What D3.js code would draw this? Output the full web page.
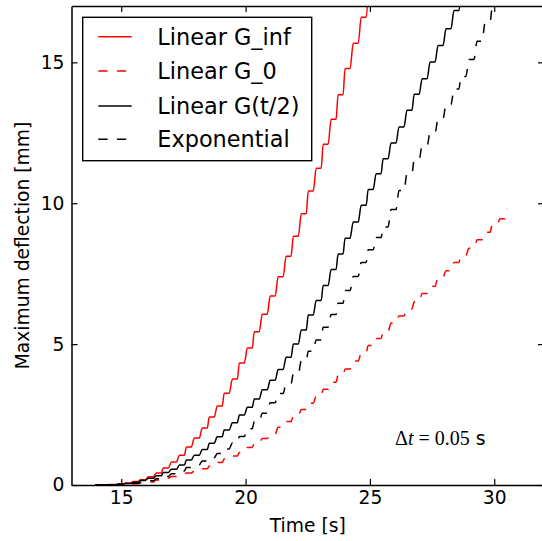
<!DOCTYPE html>
<html>
<head>
<meta charset="utf-8">
<script src="https://cdn.jsdelivr.net/npm/d3@7"></script>
<style>
body{margin:0;background:#fff;}
text{font-family:"DejaVu Sans",sans-serif;}
</style>
</head>
<body>
<svg id="chart-area" width="542" height="541"></svg>
<script>
// start / end of each flat part of the load cycle [s]
var stepT = [13.95, 14.26, 14.57, 14.89, 15.17, 15.49, 15.77, 16.09, 16.41, 16.69,
             17.02, 17.34, 17.62, 17.94, 18.26, 18.54, 18.86, 19.14, 19.47, 19.75,
             20.07, 20.35, 20.67, 20.99, 21.31, 21.63, 21.92, 22.24, 22.52, 22.84,
             23.12, 23.44, 23.72, 24.00, 24.33, 24.65, 24.93, 25.25, 25.53, 25.85,
             26.17, 26.49, 26.78, 27.10, 27.42, 27.74, 28.06, 28.38, 28.66, 28.98,
             29.31, 29.63, 29.91, 30.23, 30.51];
var stepEndT = [14.15, 14.46, 14.77, 15.09, 15.37, 15.69, 15.97, 16.29, 16.61, 16.89,
                17.22, 17.54, 17.82, 18.14, 18.46, 18.74, 19.06, 19.34, 19.67, 19.95,
                20.27, 20.55, 20.87, 21.19, 21.51, 21.83, 22.12, 22.44, 22.72, 23.04,
                23.32, 23.64, 23.92, 24.20, 24.53, 24.85, 25.13, 25.45, 25.73, 26.05,
                26.37, 26.69, 26.98, 27.30, 27.62, 27.94, 28.26, 28.58, 28.86, 29.18,
                29.51, 29.83, 30.11, 30.43, 30.71];

// deflection [mm] on each flat
var linearGinf = [0, 0.01, 0.02, 0.04, 0.07, 0.12, 0.19, 0.29, 0.43, 0.60,
                  0.82, 1.06, 1.35, 1.67, 2.02, 2.41, 2.80, 3.26, 3.76, 4.33,
                  4.86, 5.44, 6.06, 6.71, 7.39, 8.12, 8.83, 9.63, 10.43, 11.24,
                  12.09, 12.98, 13.85, 14.78, 15.68, 16.6, 17.5];
var linearG0 = [0, 0.002, 0.005, 0.012, 0.025, 0.045, 0.075, 0.11, 0.18, 0.24,
                0.3, 0.37, 0.43, 0.5, 0.58, 0.67, 0.8, 0.92, 1.03, 1.15,
                1.33, 1.5, 1.65, 1.8, 2.05, 2.25, 2.45, 2.68, 2.9, 3.15,
                3.4, 3.65, 3.9, 4.12, 4.4, 4.7, 4.95, 5.2, 5.45, 5.75,
                6.0, 6.25, 6.5, 6.8, 7.05, 7.38, 7.6, 7.9, 8.15, 8.4,
                8.7, 8.97, 9.2, 9.45, 9.8];
var linearGhalf = [0, 0.005, 0.012, 0.025, 0.05, 0.10, 0.16, 0.24, 0.33, 0.44,
                   0.56, 0.71, 0.89, 1.06, 1.26, 1.48, 1.71, 1.95, 2.21, 2.48,
                   2.76, 3.05, 3.38, 3.72, 4.1, 4.53, 5.0, 5.5, 6.03, 6.55,
                   7.08, 7.65, 8.2, 8.76, 9.33, 9.93, 10.49, 11.05, 11.58, 12.14,
                   12.71, 13.30, 13.87, 14.42, 15.01, 15.6, 16.19, 16.84, 17.45];
var exponential = [0, 0.003, 0.007, 0.015, 0.03, 0.06, 0.1, 0.15, 0.22, 0.3,
                   0.4, 0.5, 0.62, 0.72, 0.85, 0.97, 1.12, 1.28, 1.5, 1.72,
                   2.0, 2.25, 2.55, 2.92, 3.25, 3.6, 3.95, 4.4, 4.75, 5.15,
                   5.6, 6.05, 6.45, 6.9, 7.4, 7.9, 8.35, 8.78, 9.16, 9.78,
                   10.45, 11.05, 11.55, 12.05, 12.5, 13.0, 13.5, 14.05, 14.5, 15.1,
                   15.75, 16.4, 16.9, 17.5];

var seriesNames = ['Linear G_inf', 'Linear G_0', 'Linear G(t/2)', 'Exponential'];
var xTicks = [15, 20, 25, 30];
var yTicks = [0, 5, 10, 15];

var margin = {left:71.5, top:6};
var width = 544 - margin.left;
var height = 485 - margin.top;

var svg = d3.select('#chart-area');
var g = svg.append('g')
           .attr('transform','translate(' + margin.left + ',' + margin.top + ')');

var x = d3.scaleLinear().domain([13,32]).range([0,width]);
var y = d3.scaleLinear().domain([0,17]).range([height,0]);

g.append('clipPath').attr('id','clip')
 .append('rect').attr('width',width).attr('height',height);

function stepPoints(vals){
    var pts = [];
    vals.forEach(function(v,i){
        pts.push([stepT[i], v]);
        if(i < vals.length-1) pts.push([stepEndT[i], v]);
    });
    return pts;
}

var line = d3.line()
             .x(function(d){ return x(d[0]); })
             .y(function(d){ return y(d[1]); })
             .curve(d3.curveMonotoneX);

var series = [
    {name:seriesNames[0], vals:linearGinf, color:'#ff0000', dash:null},
    {name:seriesNames[1], vals:linearG0, color:'#ff0000', dash:'9.3,9.3'},
    {name:seriesNames[2], vals:linearGhalf, color:'#000000', dash:null},
    {name:seriesNames[3], vals:exponential, color:'#000000', dash:'9.3,9.3'}
];

g.append('g').attr('clip-path','url(#clip)')
 .selectAll('path').data(series).enter()
 .append('path')
 .attr('d',function(d){ return line(stepPoints(d.vals)); })
 .attr('fill','none')
 .attr('stroke',function(d){ return d.color; })
 .attr('stroke-width',1.5)
 .attr('stroke-dasharray',function(d){ return d.dash; });

// axes, ticks pointing inwards on all four sides
var xAxis = d3.axisBottom(x).tickValues(xTicks).tickSizeInner(-6).tickSizeOuter(0).tickPadding(6);
var xTop = d3.axisTop(x).tickValues(xTicks).tickSizeInner(-6).tickSizeOuter(0).tickFormat('');
var yAxis = d3.axisLeft(y).tickValues(yTicks).tickSizeInner(-6).tickSizeOuter(0).tickPadding(7);
var yRight = d3.axisRight(y).tickValues(yTicks).tickSizeInner(-6).tickSizeOuter(0).tickFormat('');

g.append('g').attr('class','axis').attr('transform','translate(0,' + height + ')').call(xAxis);
g.append('g').attr('class','axis').call(xTop);
g.append('g').attr('class','axis').call(yAxis);
g.append('g').attr('class','axis').attr('transform','translate(' + width + ',0)').call(yRight);

g.selectAll('.axis path').attr('stroke','#000').attr('stroke-width',1.5);
g.selectAll('.axis line').attr('stroke','#000').attr('stroke-width',1.2);
g.selectAll('.axis text')
 .attr('fill','#000')
 .style('font-family','"DejaVu Sans",sans-serif')
 .style('font-size','18.7px');

svg.append('text')
   .attr('x', margin.left + width/2)
   .attr('y', 532)
   .attr('text-anchor','middle')
   .style('font-size','18.7px')
   .text('Time [s]');

svg.append('text')
   .attr('transform','translate(29,' + (margin.top + height/2) + ') rotate(-90)')
   .attr('text-anchor','middle')
   .style('font-size','18.7px')
   .text('Maximum deflection [mm]');

// annotation
var ann = svg.append('text').attr('x',395).attr('y',445).style('font-size','20px');
ann.append('tspan').style('font-family','"Liberation Serif",serif').text('\u0394');
ann.append('tspan').style('font-family','"Liberation Serif",serif').style('font-style','italic').text('t');
ann.append('tspan').style('font-family','"Liberation Serif",serif').text(' = 0.05');
ann.append('tspan').style('font-size','18.7px').text(' s');

// legend
var legend = svg.append('g');
legend.append('rect')
      .attr('x',82.7).attr('y',17.3)
      .attr('width',229).attr('height',143.4)
      .attr('fill','#fff').attr('stroke','#000').attr('stroke-width',1.4);

var rowY = [36.7, 71, 106, 139.3];
var rows = legend.selectAll('.row').data(series).enter()
                 .append('g').attr('class','row')
                 .attr('transform',function(d,i){ return 'translate(0,' + rowY[i] + ')'; });
rows.append('line')
    .attr('x1',98.3).attr('x2',131.7)
    .attr('stroke',function(d){ return d.color; })
    .attr('stroke-width',1.5)
    .attr('stroke-dasharray',function(d){ return d.dash; });
rows.append('text')
    .attr('x',157.3).attr('dy','0.36em')
    .style('font-size','22.4px')
    .text(function(d){ return d.name; });
</script>
</body>
</html>
